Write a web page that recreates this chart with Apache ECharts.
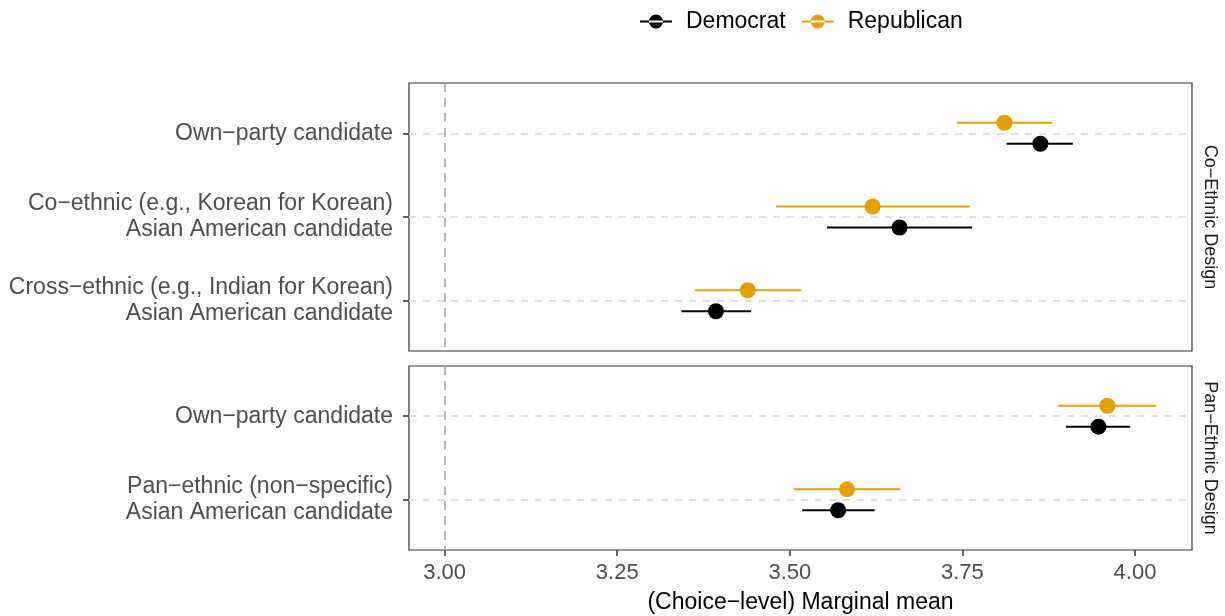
<!DOCTYPE html>
<html>
<head>
<meta charset="utf-8">
<script src="https://cdn.jsdelivr.net/npm/echarts@6/dist/echarts.min.js"></script>
<style>html,body{margin:0;padding:0;background:#fff}#c{width:1225px;height:616px}</style>
</head>
<body>
<div id="c"></div>
<script>
// ---- data ----
const panelLabels = ['Co−Ethnic Design', 'Pan−Ethnic Design'];
const categoriesTop = ['Own−party candidate', 'Co−ethnic (e.g., Korean for Korean)\nAsian American candidate', 'Cross−ethnic (e.g., Indian for Korean)\nAsian American candidate'];
const categoriesBottom = ['Own−party candidate', 'Pan−ethnic (non−specific)\nAsian American candidate'];
const parties = ['Democrat', 'Republican'];
const demTopMean = [3.863, 3.659, 3.393];
const demTopLow  = [3.814, 3.554, 3.343];
const demTopHigh = [3.910, 3.764, 3.444];
const repTopMean = [3.811, 3.620, 3.439];
const repTopLow  = [3.742, 3.480, 3.362];
const repTopHigh = [3.880, 3.761, 3.517];
const demBotMean = [3.947, 3.570];
const demBotLow  = [3.900, 3.518];
const demBotHigh = [3.993, 3.623];
const repBotMean = [3.960, 3.583];
const repBotLow  = [3.889, 3.506];
const repBotHigh = [4.031, 3.660];
const xTicks = [3.00, 3.25, 3.50, 3.75, 4.00];
const refLine = 3.00;
const xTitle = '(Choice−level) Marginal mean';

// ---- styling ----
const colors = {Democrat: '#000000', Republican: '#E69F00'};
const dodge = {Democrat: 0.125, Republican: -0.125};
const FONT = 'Liberation Sans, Arial, sans-serif';
const legendIcon = 'path://M0,7h32v2h-32z M9,8a7,7 0 1,0 14,0a7,7 0 1,0 -14,0z';

function ciData(lo, hi, party) {
  return lo.map((v, i) => [v, hi[i], i + 1 + dodge[party]]);
}
function ptData(mean, party) {
  return mean.map((v, i) => [v, i + 1 + dodge[party]]);
}
function errSeries(name, gi, data) {
  return {
    type: 'custom', name: name, xAxisIndex: gi, yAxisIndex: gi, z: 3,
    itemStyle: {color: colors[name]},
    encode: {x: [0, 1], y: 2},
    renderItem: function (params, api) {
      const a = api.coord([api.value(0), api.value(2)]);
      const b = api.coord([api.value(1), api.value(2)]);
      return {type: 'line', shape: {x1: a[0], y1: a[1], x2: b[0], y2: b[1]},
              style: {stroke: colors[name], lineWidth: 2}};
    },
    data: data, silent: true
  };
}
function ptSeries(name, gi, data) {
  return {type: 'scatter', name: name, xAxisIndex: gi, yAxisIndex: gi, z: 4,
          symbol: 'circle', symbolSize: 16, itemStyle: {color: colors[name], opacity: 1},
          data: data, silent: true};
}
function refSeries(gi, n) {
  const d = [];
  for (let i = 1; i <= n; i++) d.push({yAxis: i, lineStyle: {color: '#e0e0e0', width: 2, type: [7, 7]}});
  d.push({xAxis: refLine, lineStyle: {color: '#b8b8b8', width: 2, type: [9, 6]}});
  return {type: 'scatter', xAxisIndex: gi, yAxisIndex: gi, data: [], z: 1, silent: true,
          markLine: {silent: true, symbol: 'none', label: {show: false}, animation: false, data: d}};
}

const xMin = 2.9484, xMax = 4.0826;
function xAxis(gi, showLabels) {
  return {
    type: 'value', gridIndex: gi, min: xMin, max: xMax,
    axisLine: {show: false},
    splitLine: {show: false},
    axisTick: {show: showLabels, length: 6, customValues: xTicks, lineStyle: {color: '#333', width: 1.5}},
    axisLabel: {show: showLabels, customValues: xTicks, margin: 12, color: '#4d4d4d', fontSize: 22, fontFamily: FONT,
                formatter: v => v.toFixed(2)},
    name: showLabels ? xTitle : '', nameLocation: 'middle', nameGap: 41,
    nameTextStyle: {color: '#000', fontSize: 23, fontFamily: FONT}
  };
}
function yAxis(gi, cats) {
  const vals = cats.map((c, i) => i + 1);
  return {
    type: 'value', gridIndex: gi, inverse: true, min: 0.4, max: cats.length + 0.6,
    axisLine: {show: false}, splitLine: {show: false},
    axisTick: {show: true, length: 6, customValues: vals, lineStyle: {color: '#333', width: 1.5}},
    axisLabel: {customValues: vals, margin: 16, color: '#4d4d4d', fontSize: 23, lineHeight: 26, fontFamily: FONT,
                align: 'right', formatter: v => cats[Math.round(v) - 1] || ''}
  };
}

const chart = echarts.init(document.getElementById('c'), null, {renderer: 'canvas'});
chart.setOption({
  animation: false,
  backgroundColor: '#fff',
  legend: {
    left: 640, top: 10, padding: 0, itemGap: 16, itemWidth: 32, itemHeight: 16,
    textStyle: {color: '#000', fontSize: 23, fontFamily: FONT, padding: [0, 0, 0, 9]},
    data: parties.map(p => ({name: p, icon: legendIcon}))
  },
  grid: [
    {left: 409, top: 83, width: 783, height: 268, show: true, borderColor: '#333', borderWidth: 1.2, backgroundColor: '#fff'},
    {left: 409, top: 366, width: 783, height: 184, show: true, borderColor: '#333', borderWidth: 1.2, backgroundColor: '#fff'}
  ],
  xAxis: [xAxis(0, false), xAxis(1, true)],
  yAxis: [yAxis(0, categoriesTop), yAxis(1, categoriesBottom)],
  graphic: [
    {type: 'text', x: 1210, y: 217, rotation: -Math.PI / 2,
     style: {text: panelLabels[0], fill: '#1a1a1a', font: '18px ' + FONT, textAlign: 'center', textVerticalAlign: 'middle'}},
    {type: 'text', x: 1210, y: 458, rotation: -Math.PI / 2,
     style: {text: panelLabels[1], fill: '#1a1a1a', font: '18px ' + FONT, textAlign: 'center', textVerticalAlign: 'middle'}}
  ],
  series: [
    ptSeries('Democrat', 0, ptData(demTopMean, 'Democrat')),
    ptSeries('Republican', 0, ptData(repTopMean, 'Republican')),
    ptSeries('Democrat', 1, ptData(demBotMean, 'Democrat')),
    ptSeries('Republican', 1, ptData(repBotMean, 'Republican')),
    errSeries('Democrat', 0, ciData(demTopLow, demTopHigh, 'Democrat')),
    errSeries('Republican', 0, ciData(repTopLow, repTopHigh, 'Republican')),
    errSeries('Democrat', 1, ciData(demBotLow, demBotHigh, 'Democrat')),
    errSeries('Republican', 1, ciData(repBotLow, repBotHigh, 'Republican')),
    refSeries(0, categoriesTop.length),
    refSeries(1, categoriesBottom.length)
  ]
});
</script>
</body>
</html>
